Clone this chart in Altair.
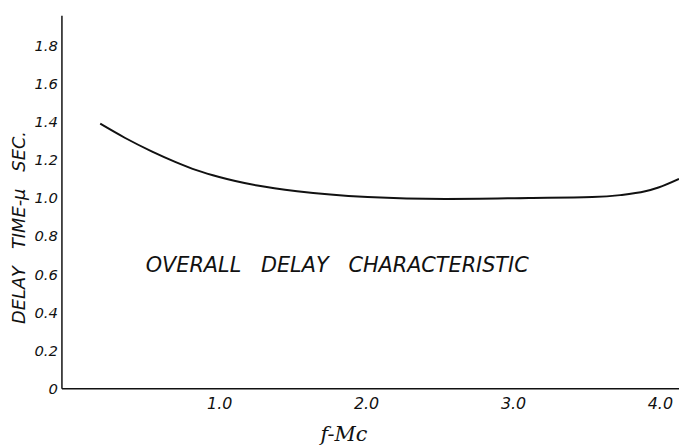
import altair as alt
import pandas as pd

# Curve (f in Mc, delay in microseconds)
freq = [0.19, 0.36, 0.54, 0.70, 0.85, 1.00, 1.26, 1.53, 2.01, 2.54, 3.11, 3.54, 3.73, 3.90, 3.99, 4.13]
delay = [1.39, 1.315, 1.245, 1.19, 1.145, 1.11, 1.065, 1.035, 1.005, 0.995, 1.0, 1.005, 1.015, 1.035, 1.055, 1.10]

x_ticks = [1.0, 2.0, 3.0, 4.0]
y_ticks = [0, 0.2, 0.4, 0.6, 0.8, 1.0, 1.2, 1.4, 1.6, 1.8]

label_text = ["OVERALL\u00a0\u00a0\u00a0DELAY\u00a0\u00a0\u00a0CHARACTERISTIC"]
label_x = [0.50]
label_y = [0.64]

curve = pd.DataFrame({"f": freq, "d": delay})
ann = pd.DataFrame({"t": label_text, "x": label_x, "y": label_y})

FONT = "DejaVu Sans"
INK = "#111111"

xscale = alt.Scale(domain=[-0.074, 4.13], nice=False, zero=False)
yscale = alt.Scale(domain=[0, 1.96], nice=False, zero=False)

line = alt.Chart(curve).mark_line(color=INK, strokeWidth=2, interpolate="monotone").encode(
    x=alt.X("f:Q", scale=xscale,
            axis=alt.Axis(values=x_ticks, format=".1f", ticks=False, grid=False,
                          labelPadding=7, labelFontSize=16, labelFontStyle="italic",
                          labelFont=FONT, labelColor=INK, labelFlush=False,
                          labelOverlap=False,
                          domainColor=INK, domainWidth=1.5,
                          title="f-Mc", titleFont="DejaVu Serif", titleFontStyle="italic",
                          titleFontWeight="normal", titleFontSize=21, titleColor=INK,
                          titleX=285, titleY=57, titleBaseline="bottom")),
    y=alt.Y("d:Q", scale=yscale,
            axis=alt.Axis(values=y_ticks, ticks=False, grid=False,
                          labelExpr="datum.value == 0 ? '0' : format(datum.value, '.1f')",
                          labelPadding=4, labelFontSize=15, labelFontStyle="italic",
                          labelFont=FONT, labelColor=INK, labelOverlap=False,
                          labelFlush=False,
                          domainColor=INK, domainWidth=1.5,
                          title="DELAY\u00a0\u00a0\u00a0TIME-\u03bc\u00a0\u00a0\u00a0SEC.", titleFont=FONT,
                          titleFontStyle="italic", titleFontWeight="normal",
                          titleFontSize=18, titleColor=INK,
                          titleX=-42, titleY=214, titleBaseline="middle")),
)

text = alt.Chart(ann).mark_text(align="left", baseline="middle", font=FONT,
                                fontStyle="italic", fontSize=21, color=INK).encode(
    x=alt.X("x:Q", scale=xscale),
    y=alt.Y("y:Q", scale=yscale),
    text="t:N",
)

chart = alt.layer(line, text).properties(
    width=624, height=377,
    background="white",
    autosize=alt.AutoSizeParams(type="none"),
    padding={"left": 54, "top": 5, "right": 0, "bottom": 58},
).configure_view(stroke=None)

chart.save("out.html", embed_options={"renderer": "svg", "actions": False})
